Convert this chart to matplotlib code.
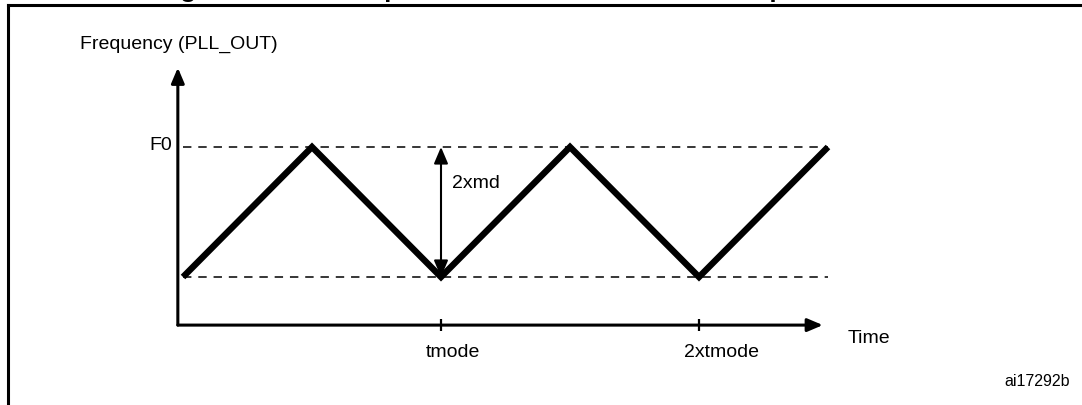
import matplotlib
matplotlib.use("Agg")
import matplotlib.pyplot as plt
from matplotlib.lines import Line2D

plt.rcParams['font.family'] = ['Liberation Sans', 'DejaVu Sans']

# data: time in units of tmode, frequency normalised (0 = F0 - 2xmd, 1 = F0)
t_pts = [0, 0.5, 1, 1.5, 2, 2.5]
f_pts = [0, 1, 0, 1, 0, 1]
f0_level = 1
f_low = 0
tick_pos = [1, 2]
tick_labels = ['tmode', '2xtmode']
span_at = 1

y_label = 'Frequency (PLL_OUT)'
x_label = 'Time'
level_label = 'F0'
span_label = '2xmd'
fig_id = 'ai17292b'
title = 'Figure 16. PLL output clock waveforms in down spread mode'

# where the hand drawn axes start / end (data units)
t_axis0 = -0.02
f_axis0 = -0.37
t_end = 2.48
f_top = 1.61

fig = plt.figure(figsize=(10.82, 4.06), dpi=100)
ax = fig.add_axes([0, 0, 1, 1])
ax.set_xlim(-183 / 258, 899 / 258)
ax.set_ylim(-128 / 130, 278 / 130)
ax.axis('off')

# dashed reference levels
ax.hlines([f0_level, f_low], t_pts[0], t_pts[-1], colors='black', lw=1.1,
          linestyles=(0, (5.5, 4.5)))

# triangle modulation
ax.plot(t_pts, f_pts, color='black', lw=4.6, solid_joinstyle='miter',
        solid_capstyle='butt')

# axes with arrows
ax_arrow = dict(arrowstyle='-|>,head_length=0.4,head_width=0.17',
                mutation_scale=23, lw=2.2, color='black', shrinkA=0, shrinkB=0)
ax.annotate('', xy=(t_axis0, f_top), xytext=(t_axis0, f_axis0), arrowprops=ax_arrow)
ax.annotate('', xy=(t_end, f_axis0), xytext=(t_axis0, f_axis0), arrowprops=ax_arrow)

# ticks on time axis
ax.plot(tick_pos, [f_axis0] * len(tick_pos), ls='none', marker='|', ms=9,
        mew=1.6, color='black')
for tp, lab in zip(tick_pos, tick_labels):
    ax.annotate(lab, (tp, f_axis0), xytext=(-15, -26), textcoords='offset pixels',
                ha='left', va='center', fontsize=14)

# 2xmd double arrow
ax.annotate('', xy=(span_at, f0_level), xytext=(span_at, f_low),
            arrowprops=dict(arrowstyle='<|-|>,head_length=0.4,head_width=0.17',
                            mutation_scale=25, lw=1.5, color='black',
                            shrinkA=0, shrinkB=0))
ax.annotate(span_label, (span_at, f0_level), xytext=(11, -35),
            textcoords='offset pixels', ha='left', va='center', fontsize=14)

# labels
ax.annotate(level_label, (t_axis0, f0_level), xytext=(-6, -2),
            textcoords='offset pixels', ha='right', va='baseline', fontsize=14)
ax.annotate(y_label, (t_axis0, f_top), xytext=(-98, 20),
            textcoords='offset pixels', ha='left', va='baseline', fontsize=14)
ax.annotate(x_label, (t_end, f_axis0), xytext=(25, -12),
            textcoords='offset pixels', ha='left', va='center', fontsize=14)

fig.text(1070 / 1082, 1 - 382 / 406, fig_id, ha='right', va='center', fontsize=11.5)

# caption, cut off by the top edge as in the source, and frame
fig.text(157 / 1082, 1 + 3.5 / 406, title, ha='left', va='baseline',
         fontsize=18.7, fontweight='bold')
fig.add_artist(Line2D([8 / 1082, 1], [1 - 6 / 406] * 2, lw=2.2, color='black',
                      transform=fig.transFigure))
fig.add_artist(Line2D([8 / 1082] * 2, [1 - 6 / 406, 0], lw=2.2, color='black',
                      transform=fig.transFigure))

fig.savefig('out.png', dpi=100)
